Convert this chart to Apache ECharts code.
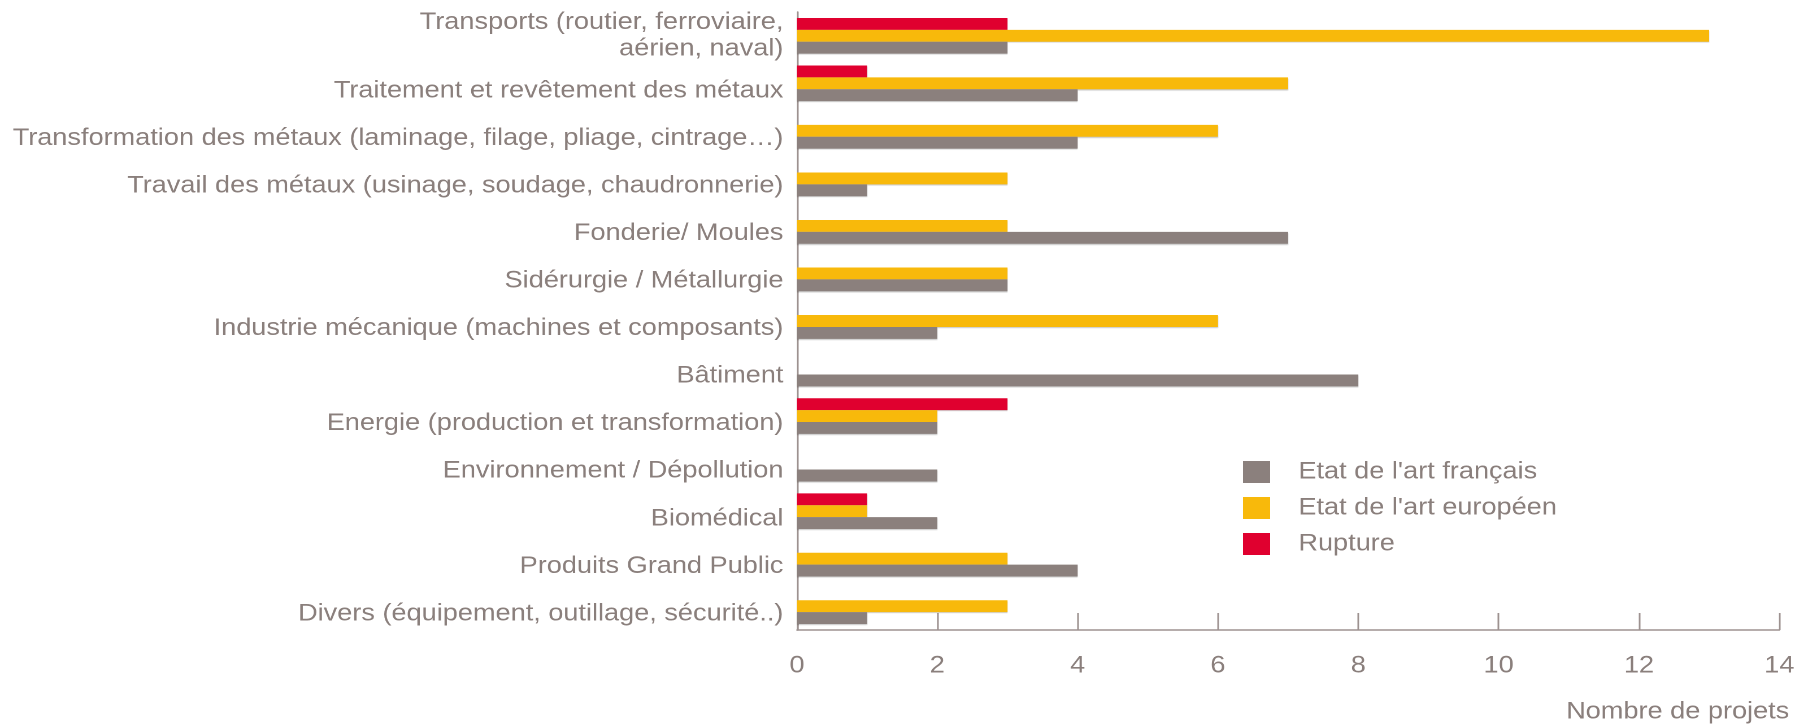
<!DOCTYPE html>
<html><head><meta charset="utf-8">
<script src="https://cdn.jsdelivr.net/npm/echarts@6/dist/echarts.min.js"></script>
<style>
html,body{margin:0;padding:0;background:#fff;overflow:hidden;width:1810px;height:726px}
#c{width:1602px;height:726px;transform:scaleX(1.13);transform-origin:0 0}
</style>
</head><body><div id="c"></div>
<script>
const categories = [
  "Transports (routier, ferroviaire,\naérien, naval)",
  "Traitement et revêtement des métaux",
  "Transformation des métaux (laminage, filage, pliage, cintrage…)",
  "Travail des métaux (usinage, soudage, chaudronnerie)",
  "Fonderie/ Moules",
  "Sidérurgie / Métallurgie",
  "Industrie mécanique (machines et composants)",
  "Bâtiment",
  "Energie (production et transformation)",
  "Environnement / Dépollution",
  "Biomédical",
  "Produits Grand Public",
  "Divers (équipement, outillage, sécurité..)"
];
const francais = [3, 4, 4, 1, 7, 3, 2, 8, 2, 2, 2, 4, 1];
const europeen = [13, 7, 6, 3, 3, 3, 6, 0, 2, 0, 1, 3, 3];
const rupture  = [3, 1, 0, 0, 0, 0, 0, 0, 3, 0, 1, 0, 0];
const xTicks = [0, 2, 4, 6, 8, 10, 12, 14];
const names = ["Etat de l'art français", "Etat de l'art européen", "Rupture"];
const colors = ["#8b807d", "#f8b90b", "#e0002f"];

const txt = '#8a7f7c';
const font = 'Liberation Sans';
const axisColor = '#9d9290';
const chart = echarts.init(document.getElementById('c'), null, { devicePixelRatio: 2 });
function mk(name, data, color) {
  return {
    name, type: 'bar', data,
    barGap: '0%', barCategoryGap: '25%',
    itemStyle: { color, shadowColor: 'rgba(0,0,0,0.22)', shadowOffsetY: 1, shadowBlur: 1 },
    emphasis: { disabled: true }
  };
}
chart.setOption({
  animation: false,
  grid: { left: 705.3, right: 27.4, top: 12, bottom: 96, containLabel: false },
  xAxis: {
    type: 'value', min: xTicks[0], max: xTicks[xTicks.length - 1], interval: 2,
    axisLine: { show: true, lineStyle: { color: axisColor, width: 1.5 } },
    axisTick: { show: true, inside: true, length: 17, lineStyle: { color: axisColor, width: 1.5 } },
    splitLine: { show: false },
    axisLabel: { color: txt, fontFamily: font, fontSize: 24, margin: 24 }
  },
  yAxis: {
    type: 'category', data: categories, inverse: true,
    axisLine: { show: true, lineStyle: { color: axisColor, width: 1.5 } },
    axisTick: { show: false },
    axisLabel: {
      color: txt, fontFamily: font, fontSize: 24, margin: 12, lineHeight: 26.5, align: 'right',
      formatter: v => v.indexOf('\n') >= 0 ? v : '{s|' + v + '}',
      rich: { s: { color: txt, fontFamily: font, fontSize: 24, padding: [15, 0, 0, 0] } }
    }
  },
  legend: {
    orient: 'vertical', left: 1095, top: 455,
    data: names, itemWidth: 24, itemHeight: 22, itemGap: 12,
    icon: 'rect',
    textStyle: { color: txt, fontFamily: font, fontSize: 24, padding: [0, 0, 0, 20] }
  },
  graphic: [{
    type: 'text', right: 18.6, top: 700,
    style: { text: 'Nombre de projets', fill: txt, font: '24px "Liberation Sans"' }
  }],
  series: [
    mk(names[2], rupture, colors[2]),
    mk(names[1], europeen, colors[1]),
    mk(names[0], francais, colors[0])
  ]
});
</script></body></html>
